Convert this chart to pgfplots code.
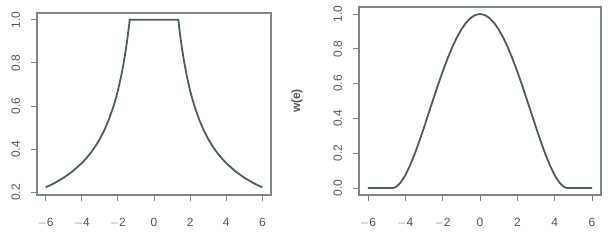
\documentclass[border=0pt]{standalone}
\usepackage{fontspec}
\setmainfont{Liberation Sans}
\usepackage{pgfplots}
\pgfplotsset{compat=1.18}
\definecolor{curve}{HTML}{4E5E59}
\definecolor{boxc}{HTML}{7D8884}
\definecolor{lab}{HTML}{555555}
\pgfplotsset{
  rplot/.style={
    scale only axis, anchor=south west,
    xmin=-6.48, xmax=6.48,
    xtick={-6,-4,-2,0,2,4,6},
    xticklabels={$-$6,$-$4,$-$2,0,2,4,6},
    tick align=outside, major tick length=6bp,
    tick style={boxc, line width=0.9bp},
    xtick pos=bottom, ytick pos=left,
    axis line style={boxc, line width=1.1bp},
    every tick label/.append style={font=\fontsize{12}{14}\selectfont, text=lab},
    xticklabel style={yshift=-14bp},
    yticklabel style={rotate=90, anchor=south, yshift=7.5bp},
    /pgf/number format/assume math mode=true,
    yticklabel={\pgfmathprintnumber[fixed,fixed zerofill,precision=1]{\tick}},
  }
}
\begin{document}
\begin{tikzpicture}[x=1bp,y=1bp]
\useasboundingbox (0,0) rectangle (610,249);
\begin{axis}[rplot, at={(37bp,54bp)}, width=234bp, height=182bp,
  ymin=0.1889, ymax=1.0311, ytick={0.2,0.4,0.6,0.8,1.0}]
\addplot[curve, line width=1.8bp] coordinates {
(-6,0.2242)(-5.5,0.2445)(-5,0.2690)(-4.5,0.2989)(-4,0.3363)(-3.75,0.3587)(-3.5,0.3843)
(-3.25,0.4138)(-3,0.4483)(-2.75,0.4891)(-2.5,0.5380)(-2.25,0.5978)(-2.1,0.6405)(-2,0.6725)
(-1.9,0.7079)(-1.8,0.7472)(-1.7,0.7912)(-1.6,0.8406)(-1.5,0.8967)(-1.45,0.9276)(-1.4,0.9607)
(-1.345,1)(1.345,1)
(1.4,0.9607)(1.45,0.9276)(1.5,0.8967)(1.6,0.8406)(1.7,0.7912)(1.8,0.7472)(1.9,0.7079)
(2,0.6725)(2.1,0.6405)(2.25,0.5978)(2.5,0.5380)(2.75,0.4891)(3,0.4483)(3.25,0.4138)
(3.5,0.3843)(3.75,0.3587)(4,0.3363)(4.5,0.2989)(5,0.2690)(5.5,0.2445)(6,0.2242)
};
\end{axis}
\begin{axis}[rplot, at={(359bp,54bp)}, width=242bp, height=188bp,
  ymin=-0.04, ymax=1.04, ytick={0,0.2,0.4,0.6,0.8,1.0},
  ylabel={w(e)},
  every axis y label/.style={at={(axis description cs:0,0.5)}, rotate=90, anchor=center, yshift=62bp,
    font=\fontsize{12}{14}\selectfont\bfseries, text=lab}]
\addplot[curve, line width=1.8bp] coordinates {
(-6,0)(-5.5,0)(-5,0)(-4.685,0)(-4.5,0.00599)(-4.25,0.03135)(-4,0.07346)(-3.75,0.12910)
(-3.5,0.19527)(-3.25,0.26912)(-3,0.34805)(-2.75,0.42961)(-2.5,0.51158)(-2.25,0.59190)
(-2,0.66873)(-1.75,0.74041)(-1.5,0.80549)(-1.25,0.86269)(-1,0.91096)(-0.75,0.94940)
(-0.5,0.97735)(-0.25,0.99431)(0,1)
(0.25,0.99431)(0.5,0.97735)(0.75,0.94940)(1,0.91096)(1.25,0.86269)(1.5,0.80549)
(1.75,0.74041)(2,0.66873)(2.25,0.59190)(2.5,0.51158)(2.75,0.42961)(3,0.34805)
(3.25,0.26912)(3.5,0.19527)(3.75,0.12910)(4,0.07346)(4.25,0.03135)(4.5,0.00599)
(4.685,0)(5,0)(5.5,0)(6,0)
};
\end{axis}
\end{tikzpicture}
\end{document}
